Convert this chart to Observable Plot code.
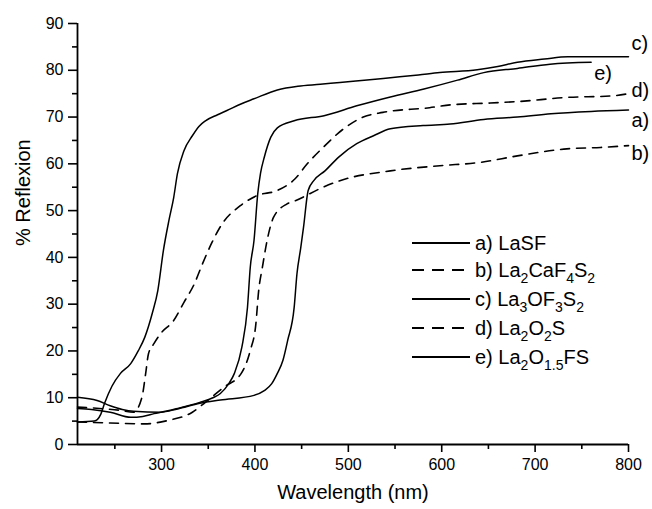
<!DOCTYPE html>
<html><head><meta charset="utf-8">
<script src="https://cdn.jsdelivr.net/npm/d3@7"></script>
<script src="https://cdn.jsdelivr.net/npm/@observablehq/plot@0.6"></script>
<style>
body{margin:0;background:#fff;font-family:"Liberation Sans",Arial,sans-serif;}
#wrap{position:relative;width:652px;height:509px;overflow:hidden}
.leg{position:absolute;left:412px;height:24px;display:flex;align-items:center;font-size:20px;line-height:24px;color:#000;white-space:nowrap}
.leg svg{display:block}
.leg span{margin-left:5px}
.leg sub{font-size:14px;vertical-align:-6px;line-height:0}
</style></head><body><div id="wrap"></div>
<script>
// a) LaSF
const aWl  = [210,231,245,258,270,299,317,341,363,399,410,418,424,430,435,442,445,449,452,457,463,475,490,509,527,545,580,609,645,681,717,760,800];
const aVal = [10.1,9.4,8.3,7.5,7.1,6.9,7.6,8.8,9.5,10.5,11.5,13,15.2,18,22.2,29.3,36.5,42,46.4,54.3,56.4,58.5,61.5,64.3,66,67.5,68.2,68.5,69.5,70,70.7,71.2,71.5];
// b) La2CaF4S2
const bWl  = [210,245,281,306,333,345,367,385,395,401,404,408,413,420,434,443,473,491,545,598,641,681,734,770,800];
const bVal = [4.8,4.6,4.4,5.1,6.9,8.7,12.3,15.1,20.1,25.8,32.9,37.9,43.6,48.6,51.4,52.1,55,56.4,58.5,59.6,60.3,61.7,63.2,63.5,63.9];
// c) La3OF3S2
const cWl  = [210,228,235,239,247,256,267,275,282,290,296,302,308,313,317,324,333,340,347,360,370,385,399,424,446,470,491,520,545,575,598,638,660,681,710,735,770,800];
const cVal = [4.8,5.0,6.5,8.8,12.5,15.2,17.3,20,22.9,28,32.9,41.5,48,52.8,57.9,62.8,66,68,69.2,70.5,71.4,72.8,73.9,75.8,76.6,77,77.4,77.9,78.4,79,79.5,80.1,80.8,81.7,82.4,82.9,82.9,82.9];
// d) La2O2S
const dWl  = [210,240,256,270,279,283,286,292,299,313,324,335,344,354,365,384,402,424,443,456,473,495,516,537,587,609,652,681,734,781,800];
const dVal = [8,7.6,7.3,6.9,10.1,15.2,19.4,21.6,23.7,26.5,30.4,34.3,38.7,43.2,47.2,51,53.2,54.3,56.8,60,63.5,67.5,70,71,72,72.6,73,73.3,74.2,74.5,75];
// e) La2O1.5FS
const eWl  = [210,225,245,267,280,292,317,341,355,363,372,378,386,392,395,399,403,406,410,417,424,442,474,509,545,581,617,645,681,716,760];
const eVal = [7.7,7.5,6.9,5.8,6.0,6.6,7.7,9,10,10.9,13,15.2,20.8,29.3,37.9,43.6,53.6,58,61.4,65.7,67.7,69.2,70.3,72.4,74.3,76,77.9,79.5,80.4,81.3,81.7];

const seriesKeys = ["a","b","c","d","e"];
const seriesDashed = [false,true,false,true,false];
const legendHtml = ["a) LaSF","b) La<sub>2</sub>CaF<sub>4</sub>S<sub>2</sub>","c) La<sub>3</sub>OF<sub>3</sub>S<sub>2</sub>","d) La<sub>2</sub>O<sub>2</sub>S","e) La<sub>2</sub>O<sub>1.5</sub>FS"];
const legendTop = [243,270,299,328,357];

const endLabelText = ["c)","e)","d)","a)","b)"];
const endLabelX = [800,760,800,800,800];
const endLabelY = [85.7,79.3,75.6,69.2,62.2];

const xMajor = [300,400,500,600,700,800];
const xMinor = [250,350,450,550,650,750];
const yMajor = [0,10,20,30,40,50,60,70,80,90];
const yMinor = [5,15,25,35,45,55,65,75,85];

const wls = [aWl,bWl,cWl,dWl,eWl];
const vals = [aVal,bVal,cVal,dVal,eVal];
const rows = seriesKeys.flatMap((k,si)=>wls[si].map((w,i)=>({series:k, dashed:seriesDashed[si], wl:w, val:vals[si][i]})));
const endLabels = endLabelText.map((t,i)=>({t, x:endLabelX[i], y:endLabelY[i]}));

const chart = Plot.plot({
  width:652, height:509,
  marginLeft:77, marginRight:24, marginTop:23, marginBottom:65,
  style:{fontFamily:'"Liberation Sans", Arial, sans-serif', background:"#fff", color:"#000"},
  x:{domain:[210,800]},
  y:{domain:[0,90]},
  marks:[
    Plot.axisX({ticks:xMajor, tickSize:8, tickPadding:6, fontSize:16, strokeWidth:1.6, label:null}),
    Plot.axisX({ticks:xMinor, tickSize:5, tickFormat:()=>"", strokeWidth:1.6, label:null}),
    Plot.axisY({ticks:yMajor, tickSize:9, tickPadding:5, fontSize:16, strokeWidth:1.6, label:null}),
    Plot.axisY({ticks:yMinor, tickSize:5, tickFormat:()=>"", strokeWidth:1.6, label:null}),
    Plot.ruleX([210], {strokeWidth:1.8}),
    Plot.ruleY([0], {strokeWidth:1.8}),
    Plot.line(rows.filter(d=>!d.dashed), {x:"wl", y:"val", z:"series", stroke:"#000", strokeWidth:1.5, curve:"monotone-x"}),
    Plot.line(rows.filter(d=>d.dashed), {x:"wl", y:"val", z:"series", stroke:"#000", strokeWidth:1.6, strokeDasharray:"9,7", curve:"monotone-x"}),
    Plot.text(endLabels, {x:"x", y:"y", text:"t", textAnchor:"start", dx:3, fontSize:20, fill:"#000"}),
    Plot.text(["Wavelength (nm)"], {frameAnchor:"bottom", dy:54, fontSize:20, fill:"#000"}),
    Plot.text(["% Reflexion"], {frameAnchor:"left", dx:-54, dy:12, rotate:-90, fontSize:20, fill:"#000"})
  ]
});
const wrap = document.getElementById("wrap");
wrap.appendChild(chart);

legendHtml.forEach((h,i)=>{
  const div = document.createElement("div");
  div.className = "leg";
  div.style.top = (legendTop[i]-12)+"px";
  const dash = seriesDashed[i] ? 'stroke-dasharray="12,8"' : '';
  div.innerHTML = `<svg width="58" height="4"><line x1="0" y1="2" x2="58" y2="2" stroke="#000" stroke-width="2" ${dash}/></svg><span>${h}</span>`;
  wrap.appendChild(div);
});
</script></body></html>
